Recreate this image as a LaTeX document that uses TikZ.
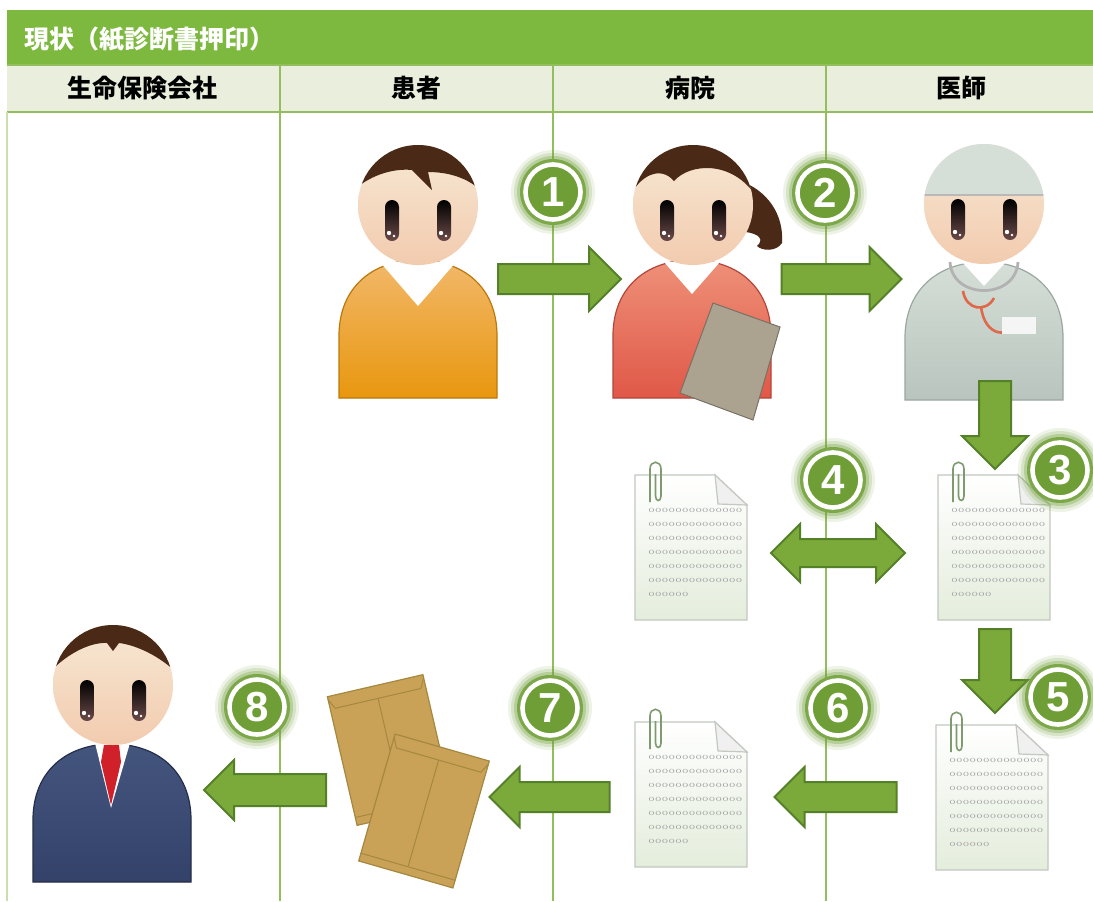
\documentclass[tikz,border=0pt]{standalone}
\usepackage{fontspec}
\newfontfamily\jpfont{Noto Sans CJK JP}
\newfontfamily\numfont{Liberation Sans}
\usetikzlibrary{shapes.arrows}

\definecolor{barGreen}{HTML}{7DB83F}
\definecolor{headRow}{HTML}{E9EEDD}
\definecolor{laneLine}{HTML}{93BE5E}
\definecolor{arrowFill}{HTML}{7BAA3A}
\definecolor{arrowEdge}{HTML}{55802A}
\definecolor{numGreen}{HTML}{6E9E35}
\definecolor{skinTop}{HTML}{F7E8D4}
\definecolor{skinBot}{HTML}{F2CBAE}
\definecolor{eyeBrown}{HTML}{6A4A48}
\definecolor{hair}{HTML}{4A2A17}
\definecolor{patientTop}{HTML}{F2B86A}
\definecolor{patientBot}{HTML}{E8970E}
\definecolor{nurseTop}{HTML}{EE9078}
\definecolor{nurseBot}{HTML}{E05848}
\definecolor{coatTop}{HTML}{D5DFD8}
\definecolor{coatBot}{HTML}{B8C4BD}
\definecolor{suitTop}{HTML}{44557D}
\definecolor{suitBot}{HTML}{34426A}
\definecolor{tieRed}{HTML}{D0202A}
\definecolor{boardGray}{HTML}{ABA290}
\definecolor{kraft}{HTML}{C9A257}
\definecolor{kraftEdge}{HTML}{A58840}
\definecolor{sheetEdge}{HTML}{C3C8C0}
\definecolor{sheetBot}{HTML}{E4EDDC}
\definecolor{clipGreen}{HTML}{7E9A6E}
\definecolor{stethRed}{HTML}{E0684A}

\begin{document}
\begin{tikzpicture}[
    x=0.5pt, y=-0.5pt,
    lane/.style={laneLine, line width=0.9pt},
    colhead/.style={font=\jpfont\bfseries\fontsize{12.5}{15}\selectfont, inner sep=0pt},
    flow/.style={single arrow, fill=arrowFill, draw=arrowEdge, line width=1pt,
                 inner xsep=0pt, inner ysep=7pt, single arrow tip angle=90,
                 single arrow head indent=0pt, single arrow head extend=8.5pt},
    swap/.style={double arrow, fill=arrowFill, draw=arrowEdge, line width=1pt,
                 inner xsep=0pt, inner ysep=6.5pt, double arrow tip angle=90,
                 double arrow head indent=0pt, double arrow head extend=7.5pt},
    eye/.style={top color=black, bottom color=eyeBrown, rounded corners=3.5pt},
    rowtext/.style={anchor=west, inner sep=0pt, text=gray!75,
                    font=\fontsize{4.7}{5}\selectfont},
    disc/.style={circle, fill=numGreen, draw=white, line width=2.3pt,
                 minimum size=27.5pt, inner sep=0pt, text=white,
                 font=\numfont\bfseries\fontsize{21}{21}\selectfont},
    pics/torso/.style n args={3}{code={
        \path[draw=#3, line width=0.6pt, top color=#1, bottom color=#2]
          (-79,0) -- (-79,-62) .. controls (-79,-112) and (-44,-138) .. (0,-138)
          .. controls (44,-138) and (79,-112) .. (79,-62) -- (79,0) -- cycle;}},
    pics/face/.style={code={
        \shade[top color=skinTop, bottom color=skinBot] (0,0) circle[radius=60];
        \shade[eye] (-33,-5) rectangle (-19,36);
        \shade[eye] (19,-5) rectangle (33,36);
        \fill[white] (-29,28) circle[radius=2.2] (-24,31) circle[radius=1.4]
                     (23,28) circle[radius=2.2] (28,31) circle[radius=1.4];}},
    pics/sheet/.style={code={
        \path[draw=sheetEdge, line width=0.6pt, top color=white, bottom color=sheetBot]
          (0,0) -- (80,0) -- (112,30) -- (112,145) -- (0,145) -- cycle;
        \path[draw=sheetEdge, line width=0.6pt, fill=gray!12]
          (80,0) -- (83,29) -- (112,30) -- cycle;
        \draw[clipGreen, line width=0.8pt] (15,27) -- (15,-6)
          .. controls (15,-15) and (26,-15) .. (26,-6) -- (26,21)
          .. controls (26,27) and (20.5,27) .. (20.5,21) -- (20.5,-1);
        \foreach \r in {0,...,5}
          \node[rowtext] (-row\r) at (13,35+14*\r) {oooooooooooooo};
        \node[rowtext] (-row6) at (13,119) {oooooo};}},
    pics/envelope/.style={code={
        \path[draw=kraftEdge, line width=0.6pt, fill=kraft] (-49,-66) rectangle (49,66);
        \draw[kraftEdge, line width=0.5pt] (-49,-63) -- (-44,-53) -- (44,-53) -- (49,-63);
        \draw[kraftEdge, line width=0.5pt] (0,-53) -- (0,57) (-49,58) -- (49,58);}},
    pics/badge/.style={code={
        \foreach \rr/\oo in {42/0.12, 39/0.18, 36/0.3}
          \fill[numGreen, fill opacity=\oo] (0,0) circle[radius=\rr];
        \fill[numGreen!90] (0,0) circle[radius=33];
        \node[disc] (-n) {#1};}}
]
\useasboundingbox (0,0) rectangle (1093,901);
\fill[white] (0,0) rectangle (1093,901);

% --- header ---
\fill[barGreen] (7,10) rectangle (1093,65);
\fill[headRow] (7,65) rectangle (1093,112);
\draw[lane] (7,65) -- (1093,65) (7,112) -- (1093,112);
\draw[laneLine!50, line width=0.6pt] (7,112) -- (7,901);
\foreach \x in {280,553,826}
  \draw[lane] (\x,65) -- (\x,901);

\node[anchor=west, inner sep=0pt, text=white, font=\jpfont\bfseries\fontsize{12.5}{15}\selectfont]
  (title) at (24,39) {現状（紙診断書押印）};
\node[colhead] (insurer) at (143,88) {生命保険会社};
\node[colhead] (patient) at (416,88) {患者};
\node[colhead] (hospital) at (690,88) {病院};
\node[colhead] (doctor) at (961,88) {医師};

% --- patient ---
\pic at (418,398) {torso={patientTop}{patientBot}{patientBot!80!black}};
\fill[white] (380,262) -- (418,306) -- (456,262) -- cycle;
\pic at (418,205) {face};
\begin{scope}
  \clip (418,205) circle[radius=60];
  \fill[hair] (352,192) .. controls (368,176) and (392,168) .. (412,170)
    -- (432,190) -- (428,172) .. controls (452,172) and (472,180) .. (484,194)
    -- (484,140) -- (352,140) -- cycle;
\end{scope}

% --- hospital clerk ---
\pic at (692,398) {torso={nurseTop}{nurseBot}{nurseBot!80!black}};
\fill[white] (664,262) -- (692,294) -- (720,262) -- cycle;
\fill[hair] (738,180) .. controls (768,190) and (784,215) .. (782,243)
  .. controls (776,252) and (762,251) .. (757,246)
  .. controls (764,240) and (760,234) .. (746,232) -- cycle;
\pic at (693,205) {face};
\begin{scope}
  \clip (693,205) circle[radius=60];
  \fill[hair] (630,196) .. controls (640,176) and (660,165) .. (674,181)
    .. controls (690,163) and (732,160) .. (756,196)
    -- (756,140) -- (630,140) -- cycle;
\end{scope}
\path[draw=boardGray!70!black, line width=0.5pt, fill=boardGray]
  (713,303) -- (780,327) -- (753,420) -- (680,393) -- cycle;

% --- doctor ---
\pic at (984,400) {torso={coatTop}{coatBot}{coatBot!85!black}};
\fill[white] (962,262) -- (984,286) -- (1006,262) -- cycle;
\draw[gray!60, line width=1.4pt] (950,262) .. controls (952,300) and (1016,300) .. (1018,262);
\draw[stethRed, line width=1.3pt] (963,291) .. controls (966,310) and (986,313) .. (994,298);
\draw[stethRed, line width=1.3pt] (981,306) .. controls (984,338) and (1012,340) .. (1018,318);
\fill[white!92!gray] (1002,317) rectangle (1036,334);
\pic at (984,204) {face};
\begin{scope}
  \clip (984,204) circle[radius=60];
  \fill[coatTop] (920,140) rectangle (1050,195);
  \draw[gray!55, line width=0.8pt] (920,195) -- (1050,195);
\end{scope}

% --- insurer ---
\pic at (112,882) {torso={suitTop}{suitBot}{suitBot!70!black}};
\fill[white] (95,743) -- (111,808) -- (130,743) -- cycle;
\fill[tieRed] (104,745) -- (119,745) -- (121,762) -- (111,805) -- (101,762) -- cycle;
\pic at (113,685) {face};
\begin{scope}
  \clip (113,685) circle[radius=60];
  \fill[hair] (48,674) .. controls (68,652) and (92,642) .. (107,643)
    -- (113,651) -- (119,643) .. controls (136,645) and (160,656) .. (178,674)
    -- (178,620) -- (48,620) -- cycle;
\end{scope}

% --- papers and envelopes ---
\pic (sh4) at (635,475) {sheet};
\pic (sh3) at (938,475) {sheet};
\pic (sh6) at (635,722) {sheet};
\pic (sh5) at (936,725) {sheet};
\pic[rotate=13] (env1) at (390,750) {envelope};
\pic[rotate=-16] (env2) at (424,811) {envelope};

% --- flow arrows (shape centre sits a little toward the tip) ---
\node[flow, minimum height=61.5pt] (a1) at (552,279) {};
\node[flow, minimum height=60pt] (a2) at (834,279) {};
\node[flow, rotate=-90, inner ysep=7.5pt, minimum height=44pt] (a3) at (995,417) {};
\node[swap, minimum height=67pt] (a4) at (838,553) {};
\node[flow, rotate=-90, inner ysep=7.5pt, minimum height=42pt] (a5) at (995,663) {};
\node[flow, rotate=180, single arrow head extend=7.5pt, minimum height=61pt] (a6) at (843,797) {};
\node[flow, rotate=180, single arrow head extend=7.5pt, minimum height=60pt] (a7) at (557,797) {};
\node[flow, rotate=180, inner ysep=7.5pt, single arrow head extend=7pt, minimum height=61pt] (a8) at (273,790) {};

% --- step numbers ---
\pic (b1) at (553,192) {badge=1};
\pic (b2) at (825,193) {badge=2};
\pic (b3) at (1060,470) {badge=3};
\pic (b4) at (833,480) {badge=4};
\pic (b5) at (1058,697) {badge=5};
\pic (b6) at (838,708) {badge=6};
\pic (b7) at (550,708) {badge=7};
\pic (b8) at (257,707) {badge=8};

\end{tikzpicture}
\end{document}
